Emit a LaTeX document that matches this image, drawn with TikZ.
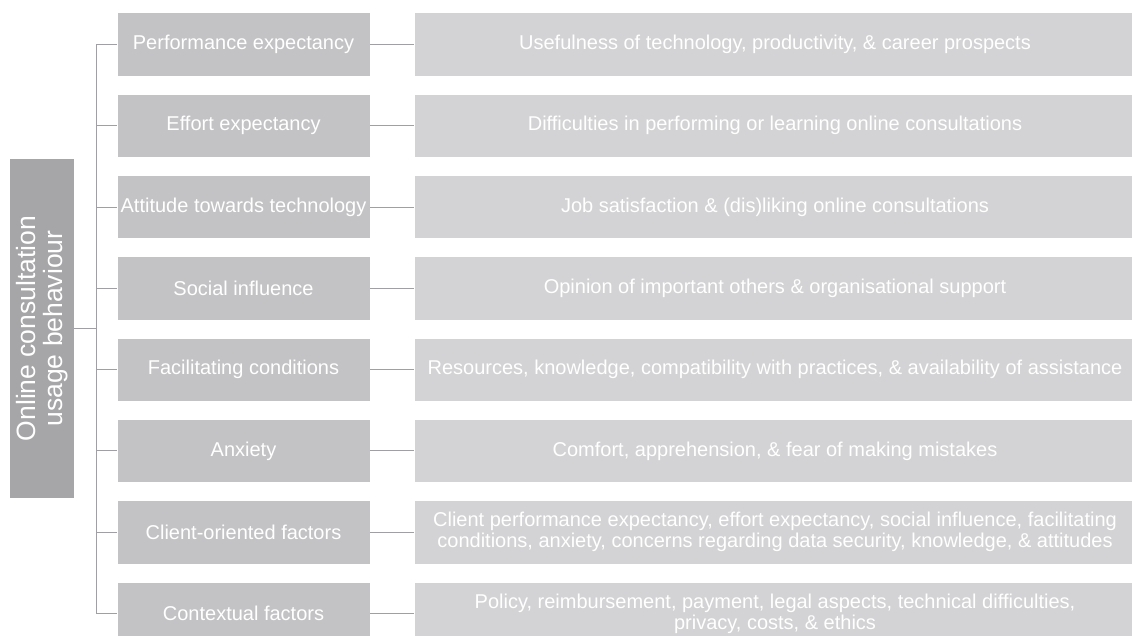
\documentclass[tikz,border=0pt]{standalone}
\usepackage{fontspec}
\setmainfont{Liberation Sans}
\definecolor{leftgray}{RGB}{166,166,169}
\definecolor{midgray}{RGB}{195,195,198}
\definecolor{rightgray}{RGB}{211,211,213}
\definecolor{linegray}{RGB}{160,160,164}
\tikzset{
  midbox/.style={fill=midgray, draw=white, line width=0.6pt, anchor=north west, minimum width=253pt, minimum height=63.4pt, inner sep=0pt, outer sep=0pt, text=white, font=\fontsize{20}{21}\selectfont, align=center},
  rightbox/.style={fill=rightgray, draw=white, line width=0.6pt, anchor=north west, minimum width=722pt, minimum height=63.4pt, inner sep=0pt, outer sep=0pt, text=white, font=\fontsize{20}{21}\selectfont, align=center},
  leftbox/.style={fill=leftgray, draw=white, line width=0.6pt, anchor=center, minimum width=340pt, minimum height=64.5pt, inner sep=0pt, outer sep=0pt, text=white, font=\fontsize{26.5}{27}\selectfont, align=center, rotate=90},
  conn/.style={draw=linegray, line width=0.9pt}
}
\begin{document}
\begin{tikzpicture}[x=1pt,y=-1pt]
\useasboundingbox (0,0) rectangle (1132,636);
\clip (0,0) rectangle (1132,636);
\node[leftbox] (L) at (41.75,328.5) {Online consultation\\usage behaviour};
\coordinate (tt) at (96,0);
\node[midbox] (m1) at (117,12.7) {Performance expectancy};
\node[midbox] (m2) at (117,94.0) {Effort expectancy};
\node[midbox] (m3) at (117,175.3) {Attitude towards technology};
\node[midbox] (m4) at (117,256.6) {Social influence};
\node[midbox] (m5) at (117,337.9) {Facilitating conditions};
\node[midbox] (m6) at (117,419.2) {Anxiety};
\node[midbox] (m7) at (117,500.5) {Client-oriented factors};
\node[midbox] (m8) at (117,581.8) {Contextual factors};
\node[rightbox] (r1) at (414,12.7) {Usefulness of technology, productivity, \& career prospects};
\node[rightbox] (r2) at (414,94.0) {Difficulties in performing or learning online consultations};
\node[rightbox] (r3) at (414,175.3) {Job satisfaction \& (dis)liking online consultations};
\node[rightbox] (r4) at (414,256.6) {Opinion of important others \& organisational support};
\node[rightbox] (r5) at (414,337.9) {Resources, knowledge, compatibility with practices, \& availability of assistance};
\node[rightbox] (r6) at (414,419.2) {Comfort, apprehension, \& fear of making mistakes};
\node[rightbox] (r7) at (414,500.5) {Client performance expectancy, effort expectancy, social influence, facilitating\\conditions, anxiety, concerns regarding data security, knowledge, \& attitudes};
\node[rightbox] (r8) at (414,581.8) {Policy, reimbursement, payment, legal aspects, technical difficulties,\\privacy, costs, \& ethics};
\draw[conn] (m1.west -| tt) -- (m8.west -| tt);
\draw[conn] (L.south) -- (L.south -| tt);
\foreach \i in {1,...,8}{
  \draw[conn] (m\i.west -| tt) -- (m\i.west);
  \draw[conn] (m\i.east) -- (r\i.west);
}
\end{tikzpicture}
\end{document}
